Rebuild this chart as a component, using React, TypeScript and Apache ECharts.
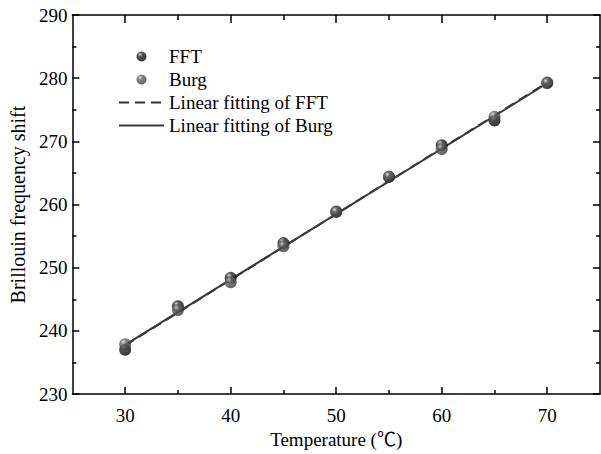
import { useEffect, useRef } from "react";
import * as echarts from "echarts";

const temperature = [30, 35, 40, 45, 50, 55, 60, 65, 70];
const fftShift = [237.0, 243.9, 248.4, 253.9, 258.9, 264.4, 269.4, 273.3, 279.3];
const burgShift = [237.9, 243.3, 247.7, 253.4, 258.8, 264.4, 268.8, 273.9, 279.2];
const fitTemperature = [30, 70];
const fftFit = [237.7, 279.3];
const burgFit = [237.8, 279.2];
const xMajorTicks = [30, 40, 50, 60, 70];
const xMinorTicks = [35, 45, 55, 65];
const legendNames = ["FFT", "Burg", "Linear fitting of FFT", "Linear fitting of Burg"];

const pairs = (xs: number[], ys: number[]) => xs.map((x, i) => [x, ys[i]]);

export default function App() {
  const ref = useRef<HTMLDivElement>(null);
  useEffect(() => {
    const chart = echarts.init(ref.current!, null, { renderer: "svg" });
    const font = "'Liberation Serif', 'Times New Roman', 'DejaVu Serif', serif";
    const nameFont = "'Liberation Serif', 'Noto Sans CJK SC', serif";
    const lineStyle = { color: "#000", width: 1.5 };
    const mkX = (position: string, ticks: number[], len: number, showLine: boolean, extra: any = {}) => ({
      type: "value",
      position,
      min: 25,
      max: 75,
      axisLine: { show: showLine, onZero: false, lineStyle },
      axisTick: { show: true, inside: true, length: len, customValues: ticks, lineStyle },
      axisLabel: { show: false },
      splitLine: { show: false },
      ...extra,
    });
    const mkY = (position: string, showLabel: boolean, extra: any = {}) => ({
      type: "value",
      position,
      min: 230,
      max: 290,
      interval: 10,
      axisLine: { show: true, onZero: false, lineStyle },
      axisTick: { show: true, inside: true, length: 7, lineStyle },
      minorTick: { show: true, splitNumber: 2, length: 4, lineStyle },
      axisLabel: { show: showLabel, fontFamily: font, fontSize: 19, color: "#000", margin: 5 },
      splitLine: { show: false },
      ...extra,
    });
    const sphere = (hi: string, mid: string, lo: string) => ({
      type: "radial",
      x: 0.36,
      y: 0.3,
      r: 0.75,
      colorStops: [
        { offset: 0, color: hi },
        { offset: 0.3, color: mid },
        { offset: 1, color: lo },
      ],
    });
    chart.setOption({
      animation: false,
      backgroundColor: "#fff",
      grid: { left: 65, right: 1, top: 15, bottom: 44, containLabel: false },
      legend: {
        orient: "vertical",
        left: 113,
        top: 42,
        itemWidth: 45,
        itemHeight: 10,
        itemGap: 4,
        textStyle: { fontFamily: font, fontSize: 19, color: "#000" },
        data: [
          { name: legendNames[0] },
          { name: legendNames[1] },
          { name: legendNames[2], itemStyle: { opacity: 0 } },
          { name: legendNames[3], itemStyle: { opacity: 0 } },
        ],
      },
      xAxis: [
        mkX("bottom", xMajorTicks, 7, true, {
          axisLabel: {
            show: true,
            customValues: xMajorTicks,
            fontFamily: font,
            fontSize: 19,
            color: "#000",
            margin: 12,
          },
          name: "Temperature (℃)",
          nameLocation: "middle",
          nameGap: 28,
          nameTextStyle: { fontFamily: nameFont, fontSize: 19, color: "#000" },
        }),
        mkX("bottom", xMinorTicks, 4, false),
        mkX("top", xMajorTicks, 8, true),
        mkX("top", xMinorTicks, 5, false),
      ],
      yAxis: [
        mkY("left", true, {
          name: "Brillouin frequency shift",
          nameLocation: "middle",
          nameGap: 37,
          nameTextStyle: { fontFamily: font, fontSize: 20, color: "#000" },
        }),
        mkY("right", false),
      ],
      series: [
        {
          name: "Linear fitting of FFT",
          type: "line",
          data: pairs(fitTemperature, fftFit),
          symbol: "none",
          z: 2,
          lineStyle: { color: "#333", width: 2, type: [10, 6] },
          itemStyle: { color: "#333" },
        },
        {
          name: "Linear fitting of Burg",
          type: "line",
          data: pairs(fitTemperature, burgFit),
          symbol: "none",
          z: 2,
          lineStyle: { color: "#3a3a3a", width: 2 },
          itemStyle: { color: "#3a3a3a" },
        },
        {
          name: "FFT",
          type: "scatter",
          data: pairs(temperature, fftShift),
          symbol: "circle",
          symbolSize: 12,
          z: 3,
          itemStyle: { color: sphere("#d0d0d0", "#2a2a2a", "#000") },
        },
        {
          name: "Burg",
          type: "scatter",
          data: pairs(temperature, burgShift),
          symbol: "circle",
          symbolSize: 12,
          z: 4,
          itemStyle: { color: sphere("#d8d8d8", "#6a6a6a", "#333") },
        },
      ],
    });
    return () => chart.dispose();
  }, []);
  return <div ref={ref} style={{ position: "absolute", left: 0, top: 0, width: 601, height: 454 }} />;
}
